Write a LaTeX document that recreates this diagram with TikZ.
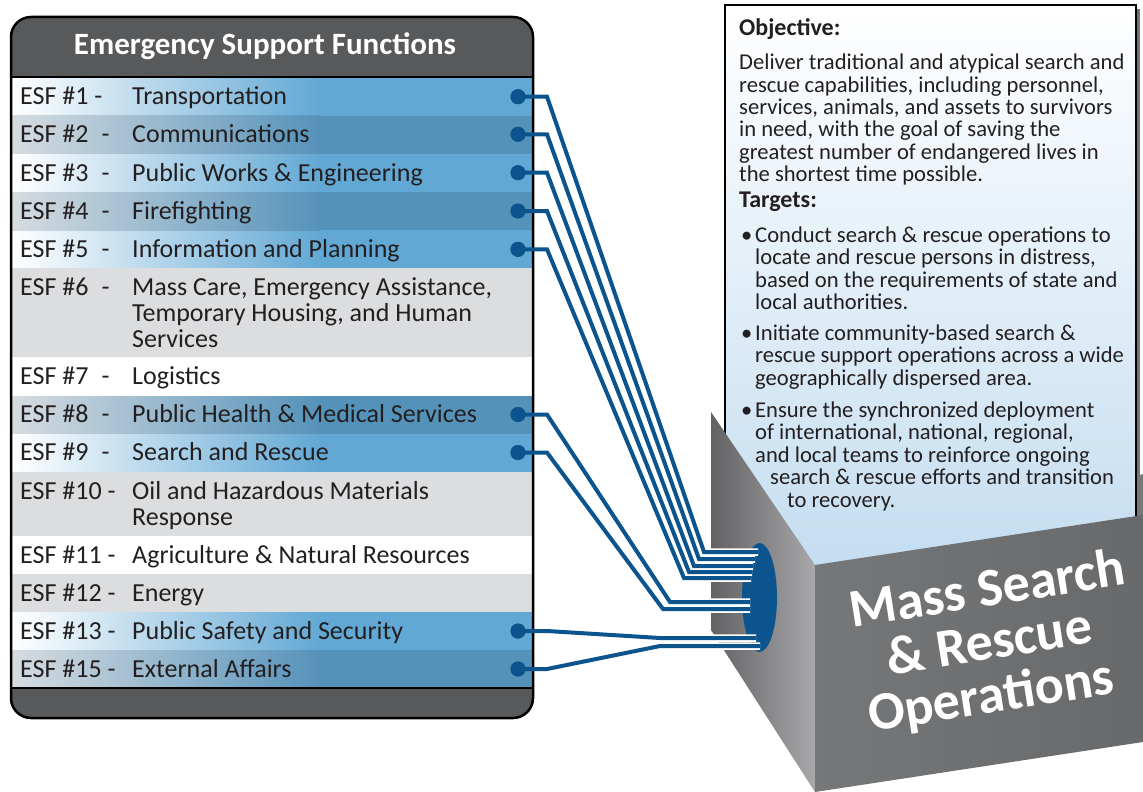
\documentclass[tikz,border=0pt]{standalone}
\usepackage{fontspec}
\setmainfont{Carlito}
\usetikzlibrary{shapes.geometric}
\definecolor{panelgray}{RGB}{88,89,91}
\definecolor{rowblue}{RGB}{98,168,212}
\definecolor{rowblueD}{RGB}{85,146,186}
\definecolor{rowblueDL}{RGB}{214,220,224}
\definecolor{rowgray}{RGB}{220,221,223}
\definecolor{lineblue}{RGB}{12,84,142}
\definecolor{txt}{RGB}{35,31,32}
\definecolor{paperblue}{RGB}{196,221,240}
\definecolor{boxfront}{RGB}{104,105,107}
\definecolor{boxfrontL}{RGB}{118,119,121}
\definecolor{sideD}{RGB}{98,98,100}
\definecolor{sideL}{RGB}{168,168,170}
\definecolor{peek}{RGB}{120,120,122}
\begin{document}
\begin{tikzpicture}[x=1pt,y=-1pt,
  rowtxt/.style={anchor=base west, inner sep=0, text=txt, font={\fontsize{26}{25.8}\selectfont}},
  papertxt/.style={anchor=base west, inner sep=0, text=txt, font={\fontsize{22.6}{22.6}\selectfont}},
  paperhead/.style={anchor=base west, inner sep=0, text=txt, font={\fontsize{24}{24}\selectfont\bfseries}},
  dotnode/.style={circle, fill=lineblue, inner sep=0, minimum size=15pt},
  conn/.style={draw=lineblue, line width=4pt},
  casing/.style={draw=white, line width=7.5pt},
  bigtxt/.style={anchor=base, inner sep=0, text=white, rotate=9, font={\fontsize{54}{51}\selectfont\bfseries}},
  lightrow/.style={left color=white, right color=rowblue},
  darkrow/.style={left color=rowblueDL, right color=rowblueD},
]
\path[use as bounding box, fill=white] (0,0) rectangle (1143,792);

% ---------- left panel ----------
\fill[panelgray, rounded corners=20pt] (11,17) rectangle (533,718);
% light blue rows
\foreach \a/\b in {77/115.5, 153.5/192, 230/268, 433.5/471.5, 612/650}{
  \fill[rowblue] (12,\a) rectangle (532,\b);
  \shade[lightrow] (12,\a) rectangle (320,\b);
}
% darker blue rows
\foreach \a/\b in {115.5/153.5, 192/230, 395.5/433.5, 650/688}{
  \fill[rowblueD] (12,\a) rectangle (532,\b);
  \shade[darkrow] (12,\a) rectangle (320,\b);
}
% gray rows
\foreach \a/\b in {268/357, 471.5/536, 574/612}{
  \fill[rowgray] (12,\a) rectangle (532,\b);
}
% white rows
\foreach \a/\b in {357/395.5, 536/574}{
  \fill[white] (12,\a) rectangle (532,\b);
}
\draw[black, line width=1.5pt] (11,77) -- (533,77);
\draw[black, line width=1.5pt] (11,688) -- (533,688);
\draw[black, line width=2.5pt, rounded corners=20pt] (11,17) rectangle (533,718);

\node[anchor=base, inner sep=0, text=white, font={\fontsize{31}{31}\selectfont\bfseries}] (hdr) at (265,55) {Emergency Support Functions};

\node[rowtxt] (l1) at (20,104.7) {ESF \#1 -};
\node[rowtxt] (t1) at (132,104.7) {Transportation};
\node[rowtxt] (l2) at (20,142.9) {ESF \#2\hspace{13pt}-};
\node[rowtxt] (t2) at (132,142.9) {Communications};
\node[rowtxt] (l3) at (20,181.1) {ESF \#3\hspace{13pt}-};
\node[rowtxt] (t3) at (132,181.1) {Public Works \& Engineering};
\node[rowtxt] (l4) at (20,219.4) {ESF \#4\hspace{13pt}-};
\node[rowtxt] (t4) at (132,219.4) {Firefighting};
\node[rowtxt] (l5) at (20,257.4) {ESF \#5\hspace{13pt}-};
\node[rowtxt] (t5) at (132,257.4) {Information and Planning};
\node[rowtxt] (l6) at (20,295.5) {ESF \#6\hspace{13pt}-};
\node[rowtxt] (t6) at (132,295.5) {\begin{tabular}[t]{@{}l@{}}Mass Care, Emergency Assistance,\\Temporary Housing, and Human\\Services\end{tabular}};
\node[rowtxt] (l7) at (20,384.6) {ESF \#7\hspace{13pt}-};
\node[rowtxt] (t7) at (132,384.6) {Logistics};
\node[rowtxt] (l8) at (20,422.9) {ESF \#8\hspace{13pt}-};
\node[rowtxt] (t8) at (132,422.9) {Public Health \& Medical Services};
\node[rowtxt] (l9) at (20,460.9) {ESF \#9\hspace{13pt}-};
\node[rowtxt] (t9) at (132,460.9) {Search and Rescue};
\node[rowtxt] (l10) at (20,499.4) {ESF \#10 -};
\node[rowtxt] (t10) at (132,499.4) {\begin{tabular}[t]{@{}l@{}}Oil and Hazardous Materials\\Response\end{tabular}};
\node[rowtxt] (l11) at (20,563.4) {ESF \#11 -};
\node[rowtxt] (t11) at (132,563.4) {Agriculture \& Natural Resources};
\node[rowtxt] (l12) at (20,601.4) {ESF \#12 -};
\node[rowtxt] (t12) at (132,601.4) {Energy};
\node[rowtxt] (l13) at (20,639.4) {ESF \#13 -};
\node[rowtxt] (t13) at (132,639.4) {Public Safety and Security};
\node[rowtxt] (l15) at (20,677.4) {ESF \#15 -};
\node[rowtxt] (t15) at (132,677.4) {External Affairs};

% ---------- paper ----------
\fill[black!55] (729,9) rectangle (1140,570);
\shade[top color=white, bottom color=paperblue, draw=black, line width=2pt] (725,5) rectangle (1136,570);
\node[paperhead] (objh) at (739,36) {Objective:};
\node[papertxt, font={\fontsize{22.6}{22}\selectfont}] (objb) at (739,70) {\begin{tabular}[t]{@{}l@{}}Deliver traditional and atypical search and\\rescue capabilities, including personnel,\\services, animals, and assets to survivors\\in need, with the goal of saving the\\greatest number of endangered lives in\\the shortest time possible.\end{tabular}};
\node[paperhead] (tgth) at (739,207) {Targets:};
\node[papertxt] (bu1) at (741,242) {•};
\node[papertxt] (tg1) at (755,242) {\begin{tabular}[t]{@{}l@{}}Conduct search \& rescue operations to\\locate and rescue persons in distress,\\based on the requirements of state and\\local authorities.\end{tabular}};
\node[papertxt] (bu2) at (741,340) {•};
\node[papertxt] (tg2) at (755,340) {\begin{tabular}[t]{@{}l@{}}Initiate community-based search \&\\rescue support operations across a wide\\geographically dispersed area.\end{tabular}};
\node[papertxt] (bu3) at (741,417) {•};
\node[papertxt] (tg3) at (755,417) {\begin{tabular}[t]{@{}l@{}}Ensure the synchronized deployment\\of international, national, regional,\\and local teams to reinforce ongoing\\\hspace*{15pt}search \& rescue efforts and transition\\\hspace*{32pt}to recovery.\end{tabular}};

% ---------- box ----------
\fill[peek] (1137,476) -- (1143,474) -- (1143,520) -- (1137,520) -- cycle;
\shade[left color=sideD, right color=sideL] (711,412) -- (815,565) -- (815,792) -- (711,630) -- cycle;
\shade[left color=boxfrontL, right color=boxfront] (815,565) -- (1143,515) -- (1143,742) -- (815,792) -- cycle;

\node[bigtxt] (msr) at (990,606) {\begin{tabular}[t]{@{}c@{}}Mass Search\\\hspace*{-13pt}\& Rescue\\\hspace*{-26pt}Operations\end{tabular}};

% ---------- hub and connectors ----------
\node[ellipse, fill=lineblue, minimum width=35pt, minimum height=109pt, inner sep=0] (hub) at (759.5,597.5) {};

\node[dotnode] (d1) at (518,96.7) {};
\node[dotnode] (d2) at (518,134.3) {};
\node[dotnode] (d3) at (518,172.7) {};
\node[dotnode] (d4) at (518,211) {};
\node[dotnode] (d5) at (518,249.3) {};
\node[dotnode] (d8) at (518,414.5) {};
\node[dotnode] (d9) at (518,452.5) {};
\node[dotnode] (d13) at (518,631) {};
\node[dotnode] (d15) at (518,669) {};

\coordinate (a1) at (547,96.7);  \coordinate (k1) at (704,552); \coordinate (e1) at (758,552);
\coordinate (a2) at (547,134.3); \coordinate (k2) at (699,559); \coordinate (e2) at (755,559);
\coordinate (a3) at (547,172.7); \coordinate (k3) at (694,566); \coordinate (e3) at (753,566);
\coordinate (a4) at (547,211);   \coordinate (k4) at (689,572); \coordinate (e4) at (752,572);
\coordinate (a5) at (547,249.3); \coordinate (k5) at (684,578); \coordinate (e5) at (751,578);
\coordinate (a8) at (547,414.5); \coordinate (k8) at (670,602); \coordinate (e8) at (750,602);
\coordinate (a9) at (547,452.5); \coordinate (k9) at (663,609); \coordinate (e9) at (750,609);
\coordinate (a13) at (547,631);  \coordinate (k13) at (660,638); \coordinate (e13) at (756,638);
\coordinate (a15) at (547,669);  \coordinate (k15) at (660,646); \coordinate (e15) at (760,646);

\foreach \i in {1,2,3,4,5,8,9,13,15}{
  \draw[casing] (a\i) -- (k\i) -- (e\i);
}
\foreach \i in {1,2,3,4,5,8,9,13,15}{
  \draw[conn] (d\i.center) -- (a\i) -- (k\i) -- (e\i);
}
\foreach \i in {1,2,3,4,5,8,9,13,15}{
  \fill[lineblue] (d\i) circle (7.5pt);
}
\end{tikzpicture}
\end{document}
